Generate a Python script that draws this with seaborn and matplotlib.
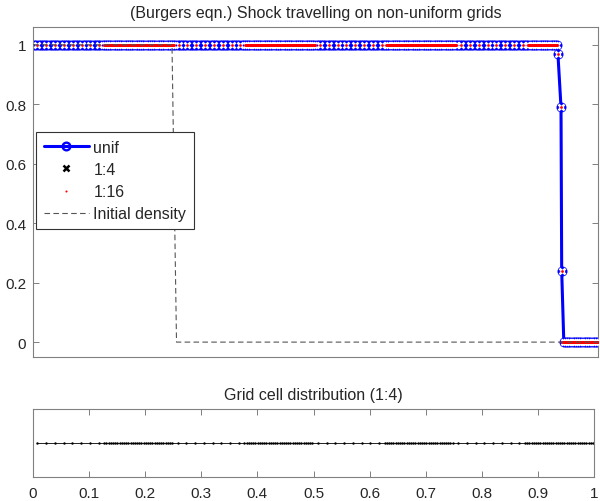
import numpy as np
import pandas as pd
import matplotlib
matplotlib.use("Agg")
import matplotlib.pyplot as plt
from matplotlib.lines import Line2D
import seaborn as sns

# ---- grid layout: coarse blocks alternate with refined blocks ----
block_edges = [0.0, 0.125, 0.25, 0.375, 0.5, 0.625, 0.75, 0.875, 1.0]
block_refined = [False, True, False, True, False, True, False, True]
coarse_dx = 1 / 64
uniform_cells = 256

# ---- shock profile (values across the discontinuity) ----
shock_x = [0.929, 0.9345, 0.9357]
shock_y = [0.97, 0.79, 0.24]
left_state = 1.0
right_state = 0.0

# ---- initial density ----
init_x = [0.0, 0.246, 0.254, 1.0]
init_y = [1.0, 1.0, 0.0, 0.0]

x_ticks = [0, 0.1, 0.2, 0.3, 0.4, 0.5, 0.6, 0.7, 0.8, 0.9, 1]
x_ticklabels = ["0", "0.1", "0.2", "0.3", "0.4", "0.5", "0.6", "0.7", "0.8", "0.9", "1"]
y_ticks = [0, 0.2, 0.4, 0.6, 0.8, 1]
y_ticklabels = ["0", "0.2", "0.4", "0.6", "0.8", "1"]


def cell_centres(ratio):
    pts = []
    for a, b, refined in zip(block_edges[:-1], block_edges[1:], block_refined):
        dx = coarse_dx / ratio if refined else coarse_dx
        n = int(round((b - a) / dx))
        pts.append(a + dx * (np.arange(n) + 0.5))
    return np.concatenate(pts)


def solution_on(grid):
    left = grid[grid < shock_x[0] - 0.0005]
    right = grid[grid > shock_x[-1] + 0.0008]
    xs = np.concatenate([left, shock_x, right])
    ys = np.concatenate([np.full(left.size, left_state), shock_y,
                         np.full(right.size, right_state)])
    return pd.DataFrame({"x": xs, "rho": ys})


grid_unif = (np.arange(uniform_cells) + 0.5) / uniform_cells
grid_14 = cell_centres(4)
grid_116 = cell_centres(16)

df_unif = solution_on(grid_unif)
df_14 = solution_on(grid_14)
df_116 = solution_on(grid_116)
df_init = pd.DataFrame({"x": init_x, "rho": init_y})
df_grid = pd.DataFrame({"x": grid_14, "y": np.zeros(grid_14.size)})

sns.set_theme(style="white")
plt.rcParams["font.family"] = ["Liberation Sans", "DejaVu Sans"]
plt.rcParams["font.size"] = 11
plt.rcParams["axes.edgecolor"] = "#808080"
plt.rcParams["axes.linewidth"] = 0.8

fig = plt.figure(figsize=(6, 5.02), dpi=100)
ax1 = fig.add_axes([0.055, 0.2869, 0.9417, 0.6574])
ax2 = fig.add_axes([0.055, 0.0484, 0.935, 0.135])

# top panel: solutions
sns.lineplot(data=df_unif, x="x", y="rho", ax=ax1, color="#0000ff", lw=2.2,
             marker="o", ms=5.5, mfc="none", mec="#0000ff", mew=1.7,
             sort=False, estimator=None, zorder=2)
sns.lineplot(data=df_14, x="x", y="rho", ax=ax1, color="black", ls="",
             marker="x", ms=4, mew=1.8, sort=False, estimator=None, zorder=3)
sns.lineplot(data=df_116, x="x", y="rho", ax=ax1, color="red", ls="",
             marker=".", ms=4, mew=0, sort=False, estimator=None, zorder=4)
sns.lineplot(data=df_init, x="x", y="rho", ax=ax1, color="#555555", lw=0.8,
             dashes=(5, 3), sort=False, estimator=None, zorder=5)

ax1.set_xlim(0, 1)
ax1.set_ylim(-0.05, 1.06)
ax1.set_xticks([])
ax1.set_yticks(y_ticks)
ax1.set_yticklabels(y_ticklabels)
ax1.set_xlabel("")
ax1.set_ylabel("")
ax1.tick_params(axis="y", direction="in", length=4, width=0.7, color="#808080",
                left=True, right=True, labelsize=11, pad=5)
ax1.set_title("(Burgers eqn.) Shock travelling on non-uniform grids",
              fontsize=11.5, pad=7)

handles = [
    Line2D([], [], color="#0000ff", lw=2.2, marker="o", ms=5.5, mfc="none",
           mec="#0000ff", mew=1.7),
    Line2D([], [], color="black", ls="", marker="x", ms=4, mew=1.8),
    Line2D([], [], color="red", ls="", marker=".", ms=3, mew=0),
    Line2D([], [], color="#555555", lw=0.8, dashes=(5, 3)),
]
leg = ax1.legend(handles, ["unif", "1:4", "1:16", "Initial density"],
                 loc="upper left", bbox_to_anchor=(0.005, 0.682),
                 borderaxespad=0, frameon=True, fancybox=False,
                 edgecolor="#333333", framealpha=1, fontsize=11.5,
                 handlelength=2.8, handletextpad=0.3, borderpad=0.5,
                 labelspacing=0.45)
leg.get_frame().set_linewidth(0.8)

# bottom panel: cell centres of the 1:4 grid
sns.lineplot(data=df_grid, x="x", y="y", ax=ax2, color="black", lw=0.6,
             marker=".", ms=3.5, mew=0, sort=False, estimator=None)
ax2.set_xlim(0, 1)
ax2.set_ylim(-1, 1)
ax2.set_yticks([])
ax2.set_xticks(x_ticks)
ax2.set_xticklabels(x_ticklabels)
ax2.set_xlabel("")
ax2.set_ylabel("")
ax2.tick_params(axis="x", direction="in", length=4, width=0.7, color="#808080",
                top=True, bottom=True, labelsize=11, pad=7)
ax2.set_title("Grid cell distribution (1:4)", fontsize=11.5, pad=7)

fig.savefig("out.png", dpi=100)
